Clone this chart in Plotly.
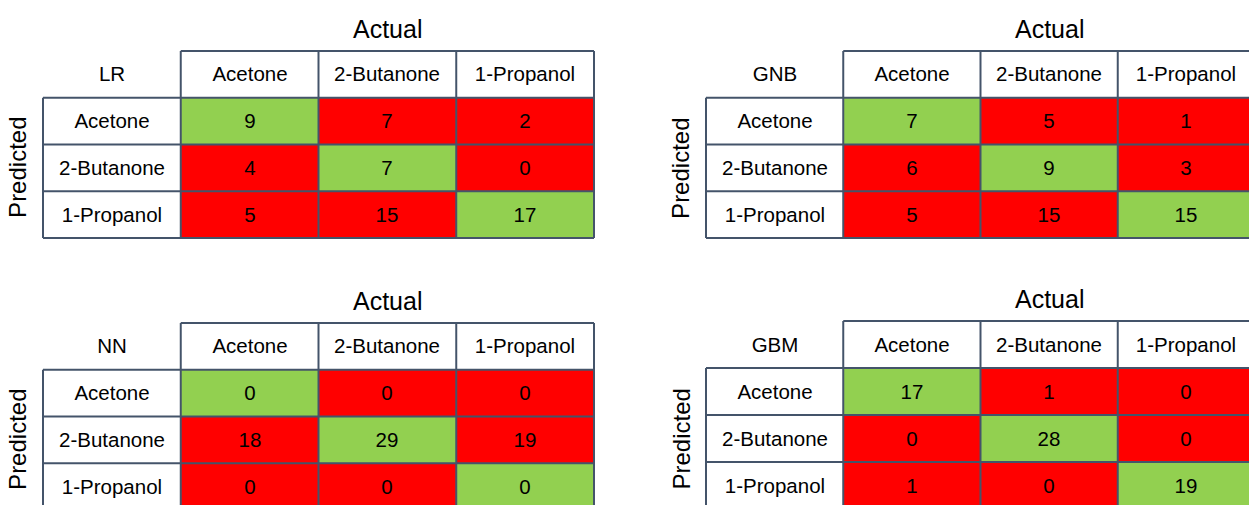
import plotly.graph_objects as go

# ---- data ----
classes = ["Acetone", "2-Butanone", "1-Propanol"]
models = ["LR", "GNB", "NN", "GBM"]
cm_lr = [[9, 7, 2], [4, 7, 0], [5, 15, 17]]
cm_gnb = [[7, 5, 1], [6, 9, 3], [5, 15, 15]]
cm_nn = [[0, 0, 0], [18, 29, 19], [0, 0, 0]]
cm_gbm = [[17, 1, 0], [0, 28, 0], [1, 0, 19]]
matrices = [cm_lr, cm_gnb, cm_nn, cm_gbm]
actual_title = "Actual"
predicted_title = "Predicted"

# ---- style / layout ----
W, H = 1249, 505
GREEN = "#92D050"
RED = "#FF0000"
BORDER = "#44546A"
FONT = "Arial, Liberation Sans, sans-serif"
PAD = 3
panels = [
    dict(x0=43, cw=137.75, y0=51, rh=46.75),
    dict(x0=706, cw=137.25, y0=51, rh=46.75),
    dict(x0=43, cw=137.75, y0=323, rh=46.75),
    dict(x0=706, cw=137.25, y0=321, rh=47.0),
]

fig = go.Figure()
shapes = []
annotations = []
layout_axes = {}

n = len(classes)
colorscale = [[0, "#FFFFFF"], [1 / 3, "#FFFFFF"], [1 / 3, RED], [2 / 3, RED],
              [2 / 3, GREEN], [1, GREEN]]

for i, (model, cm, g) in enumerate(zip(models, matrices, panels)):
    sfx = "" if i == 0 else str(i + 1)
    xref, yref = "x" + sfx, "y" + sfx

    # grid (header row + label column + matrix)
    z, txt = [], []
    for r in range(n + 1):
        zr, tr = [], []
        for c in range(n + 1):
            if r == 0 and c == 0:
                zr.append(0); tr.append(model)
            elif r == 0:
                zr.append(0); tr.append(classes[c - 1])
            elif c == 0:
                zr.append(0); tr.append(classes[r - 1])
            else:
                zr.append(2 if r == c else 1); tr.append(str(cm[r - 1][c - 1]))
        z.append(zr); txt.append(tr)

    fig.add_trace(go.Heatmap(
        z=z, x=list(range(n + 1)), y=list(range(n + 1)), text=txt,
        texttemplate="%{text}", textfont=dict(family=FONT, size=20.5, color="#000000"),
        colorscale=colorscale, zmin=0, zmax=2, showscale=False, hoverinfo="skip",
        xaxis=xref, yaxis=yref,
    ))

    # axis geometry in pixels
    px_left = g["x0"] - PAD
    px_right = min(g["x0"] + (n + 1) * g["cw"] + PAD, W)
    py_top = g["y0"] - PAD
    py_bot = min(g["y0"] + (n + 1) * g["rh"] + PAD, H)
    xr = [-0.5 - PAD / g["cw"], -0.5 + (px_right - g["x0"]) / g["cw"]]
    yr = [-0.5 + (py_bot - g["y0"]) / g["rh"], -0.5 - PAD / g["rh"]]
    layout_axes["xaxis" + sfx] = dict(domain=[px_left / W, px_right / W], range=xr,
                                      visible=False, fixedrange=True,
                                      anchor=yref)
    layout_axes["yaxis" + sfx] = dict(domain=[1 - py_bot / H, 1 - py_top / H], range=yr,
                                      visible=False, fixedrange=True,
                                      anchor=xref)

    line = dict(color=BORDER, width=2)
    # horizontal borders
    shapes.append(dict(type="line", xref=xref, yref=yref, x0=0.5, x1=n + 0.5,
                       y0=-0.5, y1=-0.5, line=line))
    for k in range(n + 1):
        shapes.append(dict(type="line", xref=xref, yref=yref, x0=-0.5, x1=n + 0.5,
                           y0=k + 0.5, y1=k + 0.5, line=line))
    # vertical borders
    shapes.append(dict(type="line", xref=xref, yref=yref, x0=-0.5, x1=-0.5,
                       y0=0.5, y1=n + 0.5, line=line))
    for k in range(n + 1):
        shapes.append(dict(type="line", xref=xref, yref=yref, x0=k + 0.5, x1=k + 0.5,
                           y0=-0.5, y1=n + 0.5, line=line))

    # titles
    ax_cx = g["x0"] + g["cw"] * 2.5
    annotations.append(dict(text=actual_title, xref="paper", yref="paper",
                            x=ax_cx / W, y=1 - (g["y0"] - 22) / H,
                            xanchor="center", yanchor="middle", showarrow=False,
                            font=dict(family=FONT, size=25, color="#000000")))
    pr_cy = g["y0"] + g["rh"] * 2.5
    annotations.append(dict(text=predicted_title, xref="paper", yref="paper",
                            x=(g["x0"] - 25) / W, y=1 - pr_cy / H, textangle=-90,
                            xanchor="center", yanchor="middle", showarrow=False,
                            font=dict(family=FONT, size=24, color="#000000")))

fig.update_layout(
    width=W, height=H, autosize=False,
    margin=dict(l=0, r=0, t=0, b=0),
    paper_bgcolor="#FFFFFF", plot_bgcolor="#FFFFFF",
    shapes=shapes, annotations=annotations, showlegend=False,
    **layout_axes,
)

fig.write_html(
    "out.html",
    config={"displayModeBar": False},
    post_script="document.body.style.margin='0';document.body.style.overflow='hidden';",
)
